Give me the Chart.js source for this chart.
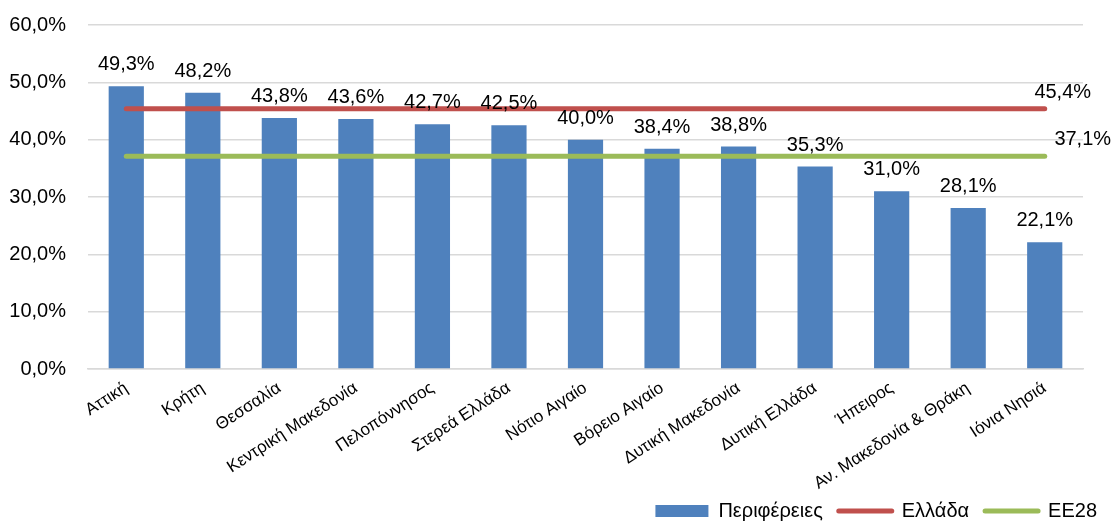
<!DOCTYPE html>
<html>
<head>
<meta charset="utf-8">
<script src="https://cdn.jsdelivr.net/npm/chart.js@4"></script>
<style>
  html, body { margin: 0; padding: 0; background: #fff; }
  #wrap { width: 1113px; height: 522px; }
</style>
</head>
<body>
<div id="wrap"><canvas id="grafico"></canvas></div>
<script>
const perifereies = ['Αττική', 'Κρήτη', 'Θεσσαλία', 'Κεντρική Μακεδονία', 'Πελοπόννησος', 'Στερεά Ελλάδα',
    'Νότιο Αιγαίο', 'Βόρειο Αιγαίο', 'Δυτική Μακεδονία', 'Δυτική Ελλάδα', 'Ήπειρος',
    'Αν. Μακεδονία & Θράκη', 'Ιόνια Νησιά'];
const timesPerif = [49.3, 48.2, 43.8, 43.6, 42.7, 42.5, 40.0, 38.4, 38.8, 35.3, 31.0, 28.1, 22.1];
const timesEllada = [45.4, 45.4, 45.4, 45.4, 45.4, 45.4, 45.4, 45.4, 45.4, 45.4, 45.4, 45.4, 45.4];
const timesEE28 = [37.1, 37.1, 37.1, 37.1, 37.1, 37.1, 37.1, 37.1, 37.1, 37.1, 37.1, 37.1, 37.1];
const ticksY = [0, 10, 20, 30, 40, 50, 60];

const fuente = 'Arial, "Liberation Sans", sans-serif';

function formato(v) {
    return v.toFixed(1).replace('.', ',') + '%';
}

// etiquetas de valores (barras arriba, lineas solo en el ultimo punto)
const etiquetas = {
    id: 'etiquetas',
    afterDatasetsDraw(chart) {
        const ctx = chart.ctx;
        ctx.save();
        ctx.font = '20px ' + fuente;
        ctx.fillStyle = '#000';
        ctx.textAlign = 'center';
        ctx.textBaseline = 'alphabetic';
        chart.data.datasets.forEach((ds, i) => {
            const meta = chart.getDatasetMeta(i);
            if (ds.type === 'bar') {
                meta.data.forEach((bar, j) => {
                    ctx.fillText(formato(ds.data[j]), bar.x, bar.y - 16);
                });
            } else {
                const ultimo = meta.data[meta.data.length - 1];
                ctx.fillText(formato(ds.data[ds.data.length - 1]), ultimo.x + ds.dxLabel, ultimo.y - 11);
            }
        });
        ctx.restore();
    },
    afterLayout(chart) {
        // bajar un poco la leyenda
        chart.legend.top += 9;
        chart.legend.bottom += 9;
        // que las etiquetas del eje x no se corten debajo de la leyenda
        const x = chart.scales.x;
        x.bottom = chart.height;
        x.height = x.bottom - x.top;
    }
};

new Chart(document.getElementById('grafico'), {
    data: {
        labels: perifereies,
        datasets: [{
            type: 'bar',
            label: 'Περιφέρειες',
            data: timesPerif,
            backgroundColor: '#4F81BD',
            borderWidth: 0,
            categoryPercentage: 1,
            barPercentage: 0.46,
            order: 1
        }, {
            type: 'line',
            label: 'Ελλάδα',
            data: timesEllada,
            borderColor: '#C0504D',
            backgroundColor: '#C0504D',
            borderWidth: 5,
            borderCapStyle: 'round',
            pointRadius: 0,
            fill: false,
            dxLabel: 18,
            order: 0
        }, {
            type: 'line',
            label: 'ΕΕ28',
            data: timesEE28,
            borderColor: '#9BBB59',
            backgroundColor: '#9BBB59',
            borderWidth: 5,
            borderCapStyle: 'round',
            pointRadius: 0,
            fill: false,
            dxLabel: 38,
            order: 0
        }]
    },
    options: {
        responsive: true,
        maintainAspectRatio: false,
        animation: false,
        layout: {
            padding: { top: 25, left: 0, right: 0, bottom: 0 }
        },
        scales: {
            x: {
                grid: { display: false, drawTicks: false },
                border: { color: '#D9D9D9', width: 1.5 },
                ticks: {
                    color: '#000',
                    font: { size: 17, family: fuente },
                    autoSkip: false,
                    minRotation: 33,
                    maxRotation: 33,
                    padding: 9
                },
                afterFit(scale) {
                    scale.height = 522 - 369 - scale.chart.legend.height;
                }
            },
            y: {
                min: 0,
                max: 60,
                afterBuildTicks(scale) {
                    scale.ticks = ticksY.map(v => ({ value: v }));
                },
                grid: { color: '#D9D9D9', lineWidth: 1.5, drawTicks: false },
                border: { display: false },
                ticks: {
                    color: '#000',
                    font: { size: 20, family: fuente },
                    padding: 22,
                    callback: v => formato(v)
                },
                afterFit(scale) {
                    scale.width = 88;
                    scale.paddingTop = 0;
                    scale.paddingBottom = 0;
                }
            },
            y2: {
                position: 'right',
                grid: { display: false, drawTicks: false },
                border: { display: false },
                ticks: { display: false },
                afterFit(scale) {
                    scale.width = 30;
                    scale.paddingTop = 0;
                    scale.paddingBottom = 0;
                }
            }
        },
        plugins: {
            legend: {
                position: 'bottom',
                align: 'end',
                labels: {
                    color: '#000',
                    font: { size: 20, family: fuente },
                    usePointStyle: true,
                    pointStyleWidth: 53,
                    boxHeight: 12,
                    padding: 16,
                    sort: (a, b) => a.datasetIndex - b.datasetIndex,
                    generateLabels(chart) {
                        return chart.data.datasets.map((ds, i) => ({
                            text: ds.label,
                            datasetIndex: i,
                            fillStyle: ds.backgroundColor,
                            strokeStyle: ds.type === 'bar' ? 'transparent' : ds.borderColor,
                            lineWidth: ds.type === 'bar' ? 0 : 5,
                            lineCap: 'round',
                            pointStyle: ds.type === 'bar' ? 'rect' : 'line',
                            fontColor: '#000',
                            hidden: false
                        }));
                    }
                }
            },
            tooltip: { enabled: false }
        }
    },
    plugins: [etiquetas]
});
</script>
</body>
</html>
